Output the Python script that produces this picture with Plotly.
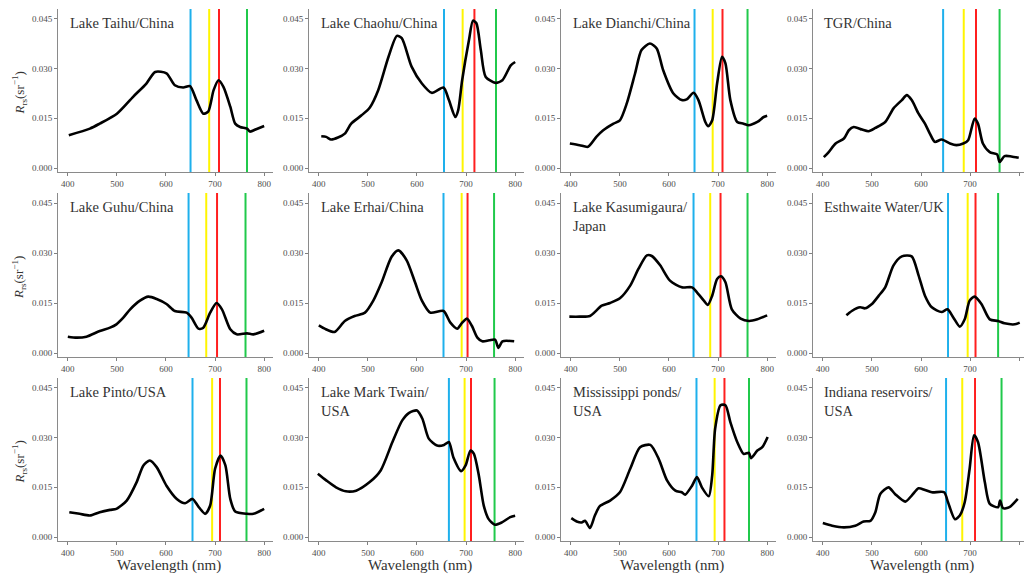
import plotly.graph_objects as go

# ---------------- data ----------------
titles = ["Lake Taihu/China", "Lake Chaohu/China", "Lake Dianchi/China", "TGR/China",
          "Lake Guhu/China", "Lake Erhai/China", "Lake Kasumigaura/<br>Japan", "Esthwaite Water/UK",
          "Lake Pinto/USA", "Lake Mark Twain/<br>USA", "Mississippi ponds/<br>USA", "Indiana reservoirs/<br>USA"]

wl_taihu = [402, 445, 465, 500, 533, 560, 578, 601, 618, 635, 649, 662, 676, 686, 697, 707, 717, 731, 741, 751, 765, 771, 785, 800]
rrs_taihu = [0.0099, 0.0119, 0.0134, 0.0164, 0.0215, 0.0255, 0.0290, 0.0286, 0.0250, 0.0243, 0.0247, 0.0205, 0.0164, 0.0170, 0.0235, 0.0265, 0.0245, 0.0185, 0.0134, 0.0124, 0.0119, 0.0110, 0.0118, 0.0127]

wl_chaohu = [405, 415, 425, 439, 453, 466, 487, 504, 521, 542, 559, 569, 589, 610, 630, 654, 665, 678, 684, 692, 706, 714, 721, 730, 740, 760, 774, 791, 800]
rrs_chaohu = [0.0096, 0.0094, 0.0086, 0.0092, 0.0104, 0.0134, 0.0159, 0.0183, 0.0235, 0.0336, 0.0399, 0.0392, 0.0306, 0.0255, 0.0227, 0.0243, 0.0205, 0.0154, 0.0175, 0.0265, 0.0387, 0.0445, 0.0437, 0.0356, 0.0275, 0.0257, 0.0265, 0.0310, 0.0320]

wl_dianchi = [398, 418, 435, 452, 466, 487, 500, 514, 531, 544, 561, 575, 588, 609, 626, 636, 650, 660, 674, 680, 688, 698, 708, 715, 725, 739, 752, 762, 780, 793, 800]
rrs_dianchi = [0.0074, 0.0069, 0.0064, 0.0094, 0.0114, 0.0134, 0.0144, 0.0195, 0.0286, 0.0356, 0.0376, 0.0361, 0.0296, 0.0225, 0.0205, 0.0207, 0.0227, 0.0205, 0.0139, 0.0126, 0.0144, 0.0255, 0.0336, 0.0316, 0.0205, 0.0139, 0.0134, 0.0129, 0.0139, 0.0154, 0.0158]

wl_tgr = [402, 412, 426, 443, 453, 463, 480, 493, 507, 527, 544, 561, 571, 581, 595, 608, 618, 628, 642, 659, 672, 686, 696, 709, 716, 726, 740, 755, 760, 770, 784, 799]
rrs_tgr = [0.0033, 0.0048, 0.0074, 0.0089, 0.0114, 0.0124, 0.0116, 0.0111, 0.0121, 0.0139, 0.0180, 0.0205, 0.0220, 0.0205, 0.0164, 0.0134, 0.0104, 0.0079, 0.0086, 0.0074, 0.0069, 0.0074, 0.0084, 0.0149, 0.0134, 0.0074, 0.0048, 0.0041, 0.0018, 0.0036, 0.0035, 0.0031]

wl_guhu = [400, 418, 438, 465, 486, 499, 513, 527, 547, 564, 581, 601, 618, 642, 652, 666, 676, 690, 703, 714, 731, 744, 765, 778, 800]
rrs_guhu = [0.0049, 0.0046, 0.0049, 0.0066, 0.0076, 0.0086, 0.0106, 0.0131, 0.0157, 0.0169, 0.0162, 0.0147, 0.0126, 0.0121, 0.0106, 0.0073, 0.0076, 0.0121, 0.0150, 0.0131, 0.0071, 0.0056, 0.0059, 0.0056, 0.0067]

wl_erhai = [400, 412, 432, 453, 473, 494, 511, 528, 548, 562, 579, 596, 610, 627, 654, 668, 682, 692, 702, 712, 723, 733, 747, 759, 766, 774, 798]
rrs_erhai = [0.0083, 0.0073, 0.0063, 0.0096, 0.0111, 0.0121, 0.0157, 0.0212, 0.0288, 0.0308, 0.0278, 0.0212, 0.0157, 0.0121, 0.0126, 0.0091, 0.0073, 0.0091, 0.0103, 0.0081, 0.0046, 0.0035, 0.0038, 0.0040, 0.0015, 0.0035, 0.0035]

wl_kasumi = [397, 418, 439, 463, 480, 500, 521, 538, 555, 565, 582, 602, 626, 647, 657, 671, 679, 688, 698, 706, 715, 728, 746, 763, 780, 800]
rrs_kasumi = [0.0109, 0.0109, 0.0111, 0.0142, 0.0150, 0.0164, 0.0202, 0.0253, 0.0293, 0.0291, 0.0263, 0.0217, 0.0197, 0.0197, 0.0182, 0.0157, 0.0144, 0.0172, 0.0222, 0.0230, 0.0212, 0.0131, 0.0103, 0.0096, 0.0101, 0.0113]

wl_esth = [448, 459, 476, 486, 500, 514, 527, 544, 561, 581, 595, 608, 622, 642, 654, 666, 679, 689, 699, 709, 723, 740, 757, 770, 791, 801]
rrs_esth = [0.0113, 0.0126, 0.0137, 0.0134, 0.0147, 0.0172, 0.0197, 0.0263, 0.0290, 0.0290, 0.0233, 0.0172, 0.0137, 0.0123, 0.0131, 0.0106, 0.0079, 0.0101, 0.0157, 0.0169, 0.0147, 0.0101, 0.0096, 0.0089, 0.0086, 0.0091]

wl_pinto = [403, 424, 445, 465, 486, 499, 520, 540, 554, 567, 581, 601, 622, 639, 654, 666, 680, 690, 700, 711, 721, 731, 741, 765, 778, 800]
rrs_pinto = [0.0075, 0.0070, 0.0065, 0.0075, 0.0082, 0.0085, 0.0110, 0.0165, 0.0216, 0.0231, 0.0211, 0.0155, 0.0115, 0.0102, 0.0115, 0.0092, 0.0070, 0.0095, 0.0206, 0.0246, 0.0216, 0.0115, 0.0077, 0.0070, 0.0070, 0.0085]

wl_twain = [398, 415, 435, 455, 476, 503, 526, 550, 570, 584, 600, 611, 624, 641, 655, 665, 674, 690, 699, 709, 716, 726, 736, 746, 759, 773, 790, 800]
rrs_twain = [0.0191, 0.0171, 0.0150, 0.0138, 0.0140, 0.0165, 0.0201, 0.0287, 0.0352, 0.0375, 0.0382, 0.0357, 0.0297, 0.0276, 0.0278, 0.0287, 0.0241, 0.0199, 0.0216, 0.0261, 0.0251, 0.0186, 0.0095, 0.0054, 0.0037, 0.0044, 0.0060, 0.0064]

wl_miss = [401, 412, 422, 429, 439, 449, 459, 480, 500, 521, 541, 562, 579, 596, 613, 626, 633, 647, 657, 667, 681, 688, 694, 705, 715, 725, 739, 752, 763, 767, 780, 790, 801]
rrs_miss = [0.0057, 0.0047, 0.0044, 0.0049, 0.0027, 0.0065, 0.0093, 0.0110, 0.0135, 0.0206, 0.0271, 0.0278, 0.0236, 0.0171, 0.0140, 0.0135, 0.0128, 0.0155, 0.0181, 0.0150, 0.0123, 0.0186, 0.0327, 0.0398, 0.0398, 0.0347, 0.0287, 0.0251, 0.0254, 0.0238, 0.0261, 0.0271, 0.0302]

wl_indiana = [400, 419, 443, 466, 483, 497, 507, 517, 534, 547, 568, 581, 595, 608, 622, 647, 655, 669, 679, 689, 699, 708, 716, 730, 740, 757, 761, 767, 780, 797]
rrs_indiana = [0.0042, 0.0034, 0.0029, 0.0034, 0.0047, 0.0049, 0.0075, 0.0130, 0.0150, 0.0130, 0.0107, 0.0125, 0.0147, 0.0142, 0.0135, 0.0135, 0.0105, 0.0054, 0.0065, 0.0105, 0.0206, 0.0307, 0.0287, 0.0165, 0.0100, 0.0090, 0.0110, 0.0087, 0.0090, 0.0115]

wavelengths = [wl_taihu, wl_chaohu, wl_dianchi, wl_tgr, wl_guhu, wl_erhai, wl_kasumi, wl_esth,
               wl_pinto, wl_twain, wl_miss, wl_indiana]
spectra = [rrs_taihu, rrs_chaohu, rrs_dianchi, rrs_tgr, rrs_guhu, rrs_erhai, rrs_kasumi, rrs_esth,
           rrs_pinto, rrs_twain, rrs_miss, rrs_indiana]

# band positions (nm) per panel
blue_nm = [650, 655, 652, 645, 646, 654, 650, 655, 654, 665, 656, 651]
yellow_nm = [688, 693, 689, 687, 682, 691, 684, 695, 694, 697, 693, 684]
red_nm = [708, 717, 709, 712, 704, 703, 705, 711, 710, 710, 713, 710]
green_nm = [765, 761, 760, 760, 762, 757, 760, 757, 764, 758, 763, 764]

x_ticks = [400, 500, 600, 700, 800]
y_ticks = [0.0, 0.015, 0.030, 0.045]
y_ticktext = ["0.000", "0.015", "0.030", "0.045"]

# ---------------- layout ----------------
W, H = 1024, 574
col_px = [(58, 273), (309, 524), (561, 776), (813, 1024)]
row_px = [(9, 172), (193, 357), (378, 541)]
band_colors = ["#1EB0EC", "#FFF500", "#FF1F1F", "#20C94B"]
serif = "Liberation Serif"

fig = go.Figure()
layout = dict(width=W, height=H, margin=dict(l=0, r=0, t=0, b=0),
              paper_bgcolor="white", plot_bgcolor="white", showlegend=False,
              font=dict(family=serif),
              shapes=[], annotations=[])

for i in range(12):
    r, c = divmod(i, 4)
    n = i + 1
    xa = "xaxis" if n == 1 else f"xaxis{n}"
    ya = "yaxis" if n == 1 else f"yaxis{n}"
    xr = "x" if n == 1 else f"x{n}"
    yr = "y" if n == 1 else f"y{n}"
    x0p, x1p = col_px[c]
    y0p, y1p = row_px[r]
    xmax = 818 if c < 3 else 380 + (x1p - x0p) / 0.491
    layout[xa] = dict(domain=[x0p / W, x1p / W], anchor=yr, range=[380, xmax],
                      tickvals=x_ticks, ticks="outside", ticklen=3, tickwidth=1,
                      tickcolor="#808080", showline=True, linecolor="#8a8a8a", linewidth=1,
                      showgrid=False, zeroline=False,
                      tickfont=dict(family=serif, size=9, color="#4d4d4d"))
    layout[ya] = dict(domain=[1 - y1p / H, 1 - y0p / H], anchor=xr, range=[-0.0012, 0.048],
                      tickvals=y_ticks, ticktext=y_ticktext, ticks="outside", ticklen=3,
                      tickwidth=1, tickcolor="#808080", showline=True, linecolor="#8a8a8a",
                      linewidth=1, showgrid=False, zeroline=False,
                      tickfont=dict(family=serif, size=9, color="#4d4d4d"))
    for pos, col in zip([blue_nm[i], yellow_nm[i], red_nm[i], green_nm[i]], band_colors):
        layout["shapes"].append(dict(type="line", xref=xr, yref=f"{yr} domain",
                                     x0=pos, x1=pos, y0=0, y1=1, layer="below",
                                     line=dict(color=col, width=2)))
    fig.add_trace(go.Scatter(x=wavelengths[i], y=spectra[i], mode="lines",
                             line=dict(color="black", width=2.6, shape="spline", smoothing=0.7),
                             xaxis=xr, yaxis=yr, hoverinfo="skip"))
    layout["annotations"].append(dict(text=titles[i], xref=f"{xr} domain", yref=f"{yr} domain",
                                      x=0.045, y=0.975, xanchor="left", yanchor="top",
                                      align="left", showarrow=False,
                                      font=dict(family=serif, size=14.5, color="#333333")))
    if c == 0:
        layout["annotations"].append(dict(
            text="<i>R</i><sub>rs</sub>(sr<sup>−1</sup>)", xref="paper", yref="paper",
            x=19 / W, y=1 - ((y0p + y1p) / 2 + 3) / H, xanchor="center", yanchor="middle",
            textangle=-90, showarrow=False,
            font=dict(family=serif, size=13, color="#333333")))
    if r == 2:
        layout["annotations"].append(dict(
            text="Wavelength (nm)", xref="paper", yref="paper",
            x=((x0p + x1p) / 2 + 3) / W, y=1 - 565 / H, xanchor="center", yanchor="middle",
            showarrow=False, font=dict(family=serif, size=15, color="#333333")))

fig.update_layout(**layout)
fig.write_html("out.html")
